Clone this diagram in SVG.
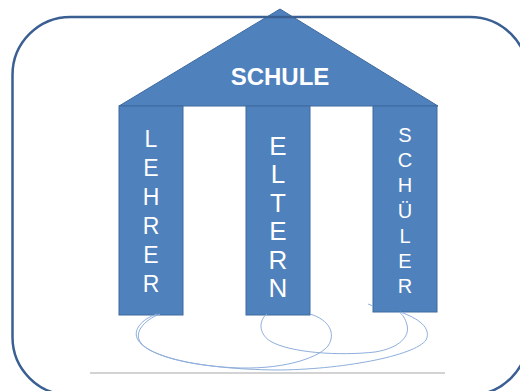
<svg xmlns="http://www.w3.org/2000/svg" width="520" height="391" viewBox="0 0 520 391">
  <style>
    .part { fill: #4f81bd; stroke: #3f6a9e; stroke-width: 1; }
    .lbl { fill: #ffffff; font-family: "Liberation Sans", Arial, sans-serif; text-anchor: middle; }
    .swirl { fill: none; stroke: #8eaedb; stroke-width: 1; }
  </style>
  <rect width="520" height="391" fill="#ffffff"/>

  <!-- roof -->
  <g id="schule">
    <polygon class="part" points="280,9 119,106 438,106"/>
    <text class="lbl" x="280" y="85" font-size="24" font-weight="bold">SCHULE</text>
  </g>

  <!-- left pillar -->
  <g id="lehrer">
    <rect class="part" x="119" y="106" width="64" height="209"/>
    <g class="lbl" font-size="23">
      <text x="151" y="147">L</text>
      <text x="151" y="176">E</text>
      <text x="151" y="205">H</text>
      <text x="151" y="234">R</text>
      <text x="151" y="263">E</text>
      <text x="151" y="292">R</text>
    </g>
  </g>

  <!-- middle pillar -->
  <g id="eltern">
    <rect class="part" x="246" y="106" width="64" height="209"/>
    <g class="lbl" font-size="26">
      <text x="278" y="155">E</text>
      <text x="278" y="183">L</text>
      <text x="278" y="212">T</text>
      <text x="278" y="240">E</text>
      <text x="278" y="269">R</text>
      <text x="278" y="297">N</text>
    </g>
  </g>

  <!-- right pillar -->
  <g id="schueler">
    <rect class="part" x="373" y="106" width="64" height="206"/>
    <g class="lbl" font-size="20">
      <text x="405" y="142">S</text>
      <text x="405" y="167">C</text>
      <text x="405" y="192">H</text>
      <text x="405" y="218">Ü</text>
      <text x="405" y="243">L</text>
      <text x="405" y="268">E</text>
      <text x="405" y="293">R</text>
    </g>
  </g>

  <!-- loops tying the pillars together -->
  <g id="connectors">
    <path class="swirl" d="M157,314 C142,319 132,330 138,340 C146,354 185,366 240,368 C290,369 320,356 328,346 C336,334 330,320 310,314"/>
    <path class="swirl" d="M160,314 C144,320 133,333 141,343 C152,357 200,369 275,370 C340,370 415,356 426,340 C432,328 418,318 400,312"/>
    <path class="swirl" d="M267,314 C259,320 258,333 270,341 C290,353 340,356 375,352 C400,348 410,336 407,325 C405,318 403,315 399,312"/>
    <path class="swirl" d="M368,304 L373,306"/>
  </g>

  <!-- base line -->
  <line x1="90" y1="373" x2="445" y2="373" stroke="#c4c4c4" stroke-width="1.5"/>

  <!-- outer frame -->
  <rect x="12.5" y="17" width="515.5" height="378" rx="58" ry="58" fill="none" stroke="#3a5f92" stroke-width="2.5"/>
</svg>
